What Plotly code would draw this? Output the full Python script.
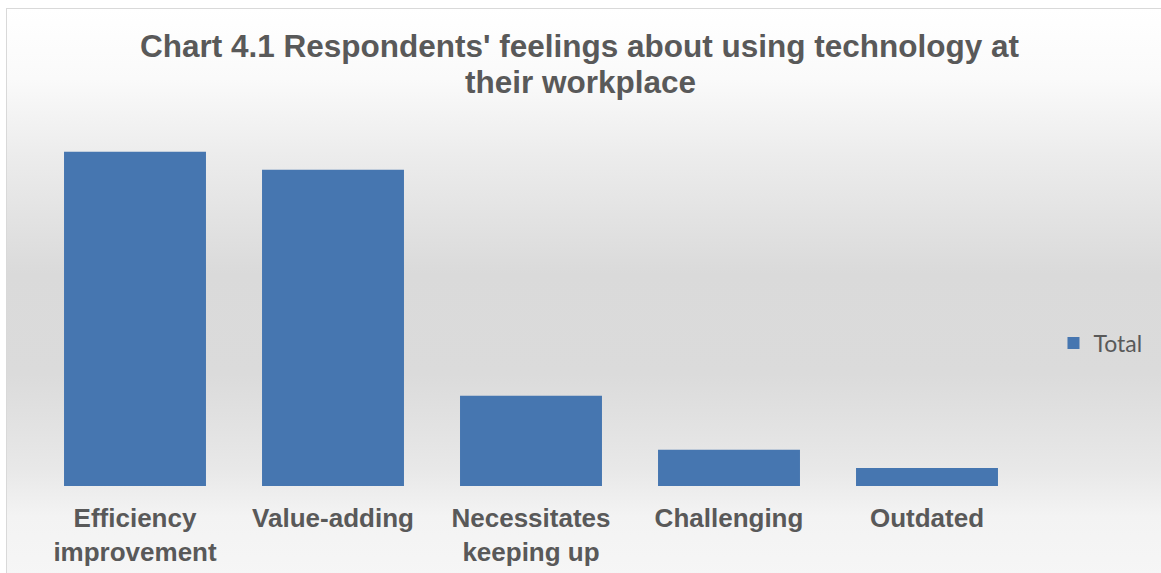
import base64
import plotly.graph_objects as go

# ---- data ----
categories = ["Efficiency<br>improvement", "Value-adding", "Necessitates<br>keeping up",
              "Challenging", "Outdated"]
totals = [37, 35, 10, 4, 2]
series_name = "Total"
title_line1 = "Chart 4.1 Respondents' feelings about using technology at"
title_line2 = "their workplace"

# ---- layout geometry (pixels) ----
W, H = 1161, 573
ML, MR, MT, MB = 36, 134.5, 140, 87
PW = W - ML - MR
PH = H - MT - MB
Y_MAX = 38.3


def px_to_paper_x(px):
    return (px - ML) / PW


def px_to_paper_y(py):
    return (H - MB - py) / PH


# background: chart area with vertical grey gradient and thin border
svg = """<svg xmlns='http://www.w3.org/2000/svg' width='1170' height='580' viewBox='0 0 1170 580' preserveAspectRatio='none'>
<defs>
<linearGradient id='g' x1='0' y1='0' x2='0' y2='1'>
<stop offset='0' stop-color='#ffffff'/>
<stop offset='0.12' stop-color='#fafafa'/>
<stop offset='0.25' stop-color='#ececec'/>
<stop offset='0.45' stop-color='#dadada'/>
<stop offset='0.62' stop-color='#dbdbdb'/>
<stop offset='0.78' stop-color='#e8e8e8'/>
<stop offset='0.86' stop-color='#f3f3f3'/>
<stop offset='1' stop-color='#f7f7f7'/>
</linearGradient>
</defs>
<rect x='0.5' y='0.5' width='1180' height='590' fill='url(#g)' stroke='#d9d9d9' stroke-width='1'/>
</svg>"""
src = "data:image/svg+xml;base64," + base64.b64encode(svg.encode()).decode()

fig = go.Figure()
fig.add_trace(go.Bar(
    x=categories, y=totals, name=series_name,
    marker=dict(color="#4676b0", line=dict(width=0)),
    showlegend=True,
))

x0, y0 = 6, 8
fig.add_layout_image(dict(
    source=src, xref="paper", yref="paper",
    x=px_to_paper_x(x0), y=px_to_paper_y(y0),
    sizex=1170 / PW, sizey=580 / PH,
    xanchor="left", yanchor="top", sizing="stretch", layer="below",
))

title_font = dict(family="Liberation Sans, Arial, sans-serif", size=31.5,
                  color="#595959", weight="bold")
fig.add_annotation(text=title_line1, xref="paper", yref="paper",
                   x=px_to_paper_x(580.5), y=px_to_paper_y(45.5),
                   xanchor="center", yanchor="middle", showarrow=False,
                   font=title_font)
fig.add_annotation(text=title_line2, xref="paper", yref="paper",
                   x=px_to_paper_x(580.5), y=px_to_paper_y(81.5),
                   xanchor="center", yanchor="middle", showarrow=False,
                   font=title_font)

fig.update_layout(
    width=W, height=H,
    margin=dict(l=ML, r=MR, t=MT, b=MB, pad=0, autoexpand=False),
    paper_bgcolor="#ffffff", plot_bgcolor="rgba(0,0,0,0)",
    bargap=0.283,
    showlegend=True,
    legend=dict(x=px_to_paper_x(1054), y=px_to_paper_y(343), xanchor="left",
                yanchor="middle", bgcolor="rgba(0,0,0,0)",
                font=dict(family="Lato, Open Sans, sans-serif", size=23, color="#595959"),
                itemwidth=30),
    xaxis=dict(
        showgrid=False, zeroline=False, showline=False, ticks="",
        tickfont=dict(family="Liberation Sans, Arial, sans-serif", size=26,
                      color="#595959", weight="bold"),
        ticklabelstandoff=14, automargin=False,
        range=[-0.5, 4.5],
    ),
    yaxis=dict(
        range=[0, Y_MAX], showgrid=False, zeroline=False, showline=False,
        showticklabels=False, ticks="", automargin=False,
    ),
)

fig.write_html("out.html")
